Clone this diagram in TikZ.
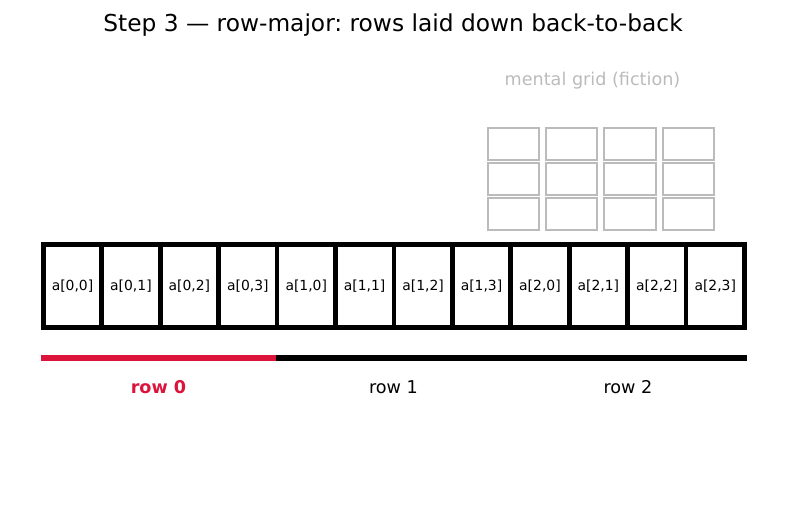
\documentclass[tikz,border=0pt]{standalone}
\usepackage{fontspec}
\setmainfont{DejaVu Sans}
\usetikzlibrary{positioning}
\definecolor{rowred}{RGB}{220,20,60}
\definecolor{fictiongray}{RGB}{187,187,187}
\frenchspacing

\begin{document}
\begin{tikzpicture}[x=1pt,y=-1pt]

    \tikzset{
      cell/.style={
        draw,
        line width=4.7pt,
        inner sep=0pt,
        outer sep=0pt,
        minimum width=58.43pt,
        minimum height=83pt,
        font=\fontsize{13.9}{16}\selectfont,
      },
      fictioncell/.style={
        draw=fictiongray,
        line width=2pt,
        inner sep=0pt,
        outer sep=0pt,
        minimum width=51.3pt,
        minimum height=32pt,
      },
      bar/.style={line width=5.5pt,line cap=butt},
      rowlabel/.style={font=\fontsize{17.6}{21}\selectfont},
    }
    \useasboundingbox (0,0) rectangle (787,510);

    \node[font=\fontsize{23.3}{27}\selectfont] (title) at (393,25) {Step 3 — row-major: rows laid down back-to-back};

    % the grid we imagine
    \node[rowlabel,text=fictiongray] (gridlabel) at (592.5,81) {mental grid (fiction)};
    \foreach \r in {0,1,2}
      \foreach \c in {0,...,3}
        \node[fictioncell] (g\r\c) at ({513.3+58.4*\c},{143.7+35.05*\r}) {};

    % what memory holds
    \foreach \r in {0,1,2}
      \foreach \c in {0,...,3}
        \node[cell] (a\r\c) at ({43.3+58.43*(4*\r+\c+0.5)},286) {a[\r,\c]};

    \coordinate (b0) at (40.5,358);
    \coordinate (b1) at (275.8,358);
    \coordinate (b2) at (511.2,358);
    \coordinate (b3) at (746.5,358);
    \draw[bar,rowred] (b0) -- (b1);
    \draw[bar] (b1) -- (b2);
    \draw[bar] (b2) -- (b3);

    \node[rowlabel,text=rowred,font=\fontsize{17.6}{21}\selectfont\bfseries] (row0) at (158.5,387) {row 0};
    \node[rowlabel] (row1) at (393.5,387) {row 1};
    \node[rowlabel] (row2) at (628,387) {row 2};

\end{tikzpicture}
\end{document}
